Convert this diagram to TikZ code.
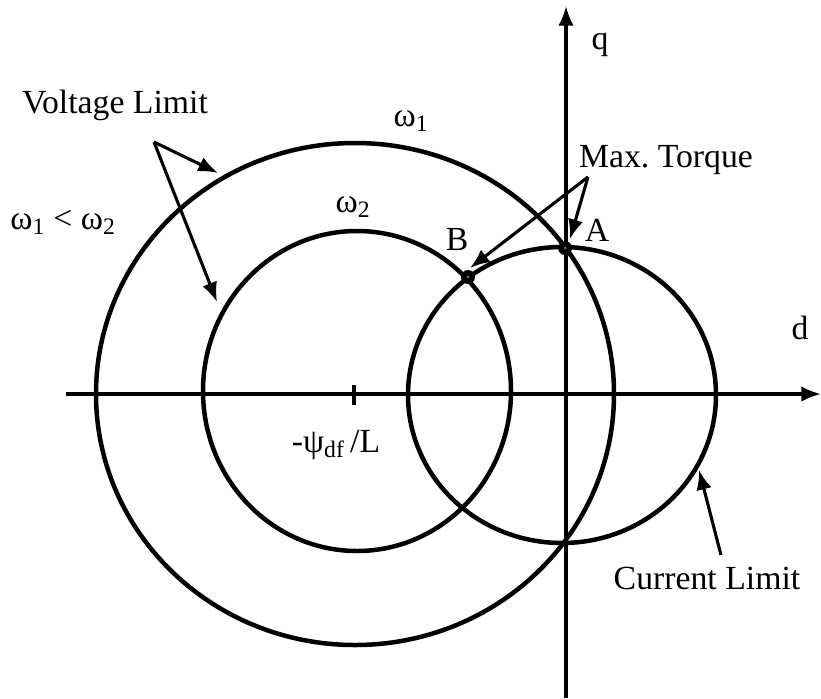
\documentclass[tikz,border=0pt]{standalone}
\usepackage{fontspec}
\setmainfont{Liberation Serif}
\usetikzlibrary{arrows.meta}

\tikzset{
  >={Latex[length=14pt,width=11pt]},
  axis/.style={line width=2.2pt,->},
  limit/.style={line width=3.2pt},
  pointer/.style={line width=2.2pt,->},
  lbl/.style={font=\fontsize{24}{28}\selectfont,inner sep=0pt}
}

\begin{document}
\begin{tikzpicture}[x=0.025cm,y=-0.025cm]
  \useasboundingbox (0,0) rectangle (821,698);
  \coordinate (W) at (66,394);
  \coordinate (E) at (821,394);
  \coordinate (S) at (566,698);
  \coordinate (N) at (566,6);
  \coordinate (V1) at (355,394);
  \coordinate (V2) at (357,391);
  \coordinate (I) at (562,395);
  \coordinate (A) at (565,248);
  \coordinate (B) at (468,277);
  \coordinate (VL) at (154,142);
  \coordinate (VL1) at (218,173);
  \coordinate (VL2) at (217,302);
  \coordinate (MT) at (588,177);
  \coordinate (MTA) at (570,239);
  \coordinate (MTB) at (470,268);
  \coordinate (CL) at (721,555);
  \coordinate (CLI) at (699,470);

  \draw[axis] (W) -- (E);
  \draw[axis] (S) -- (N);
  \draw[line width=2.2pt] (354,385) -- (354,405);

  \draw[limit] (V1) ellipse [x radius=259, y radius=251];
  \draw[limit] (V2) ellipse [x radius=154, y radius=160];
  \draw[limit] (I) ellipse [x radius=154, y radius=148];

  \draw[pointer] (VL) -- (VL1);
  \draw[pointer] (VL) -- (VL2);
  \draw[pointer] (MT) -- (MTA);
  \draw[pointer] (MT) -- (MTB);
  \draw[pointer] (CL) -- (CLI);

  \foreach \p in {A,B} {
    \fill (\p) circle (7);
    \fill[black!55] (\p) circle (1.5);
  }

  \node[lbl] (vlim) at (115,105) {Voltage Limit};
  \node[lbl] (w1) at (411,121) {ω\textsubscript{1}};
  \node[lbl] (wcmp) at (63,222) {ω\textsubscript{1} < ω\textsubscript{2}};
  \node[lbl] (w2) at (353,207) {ω\textsubscript{2}};
  \node[lbl] (labB) at (457,239) {B};
  \node[lbl] (labA) at (597,230) {A};
  \node[lbl] (maxt) at (666,160) {Max.\ Torque};
  \node[lbl] (q) at (600,45) {q};
  \node[lbl] (d) at (800,328) {d};
  \node[lbl] (psi) at (336,445) {-ψ\textsubscript{df}\,/L};
  \node[lbl] (clim) at (707,578) {Current Limit};
\end{tikzpicture}
\end{document}
